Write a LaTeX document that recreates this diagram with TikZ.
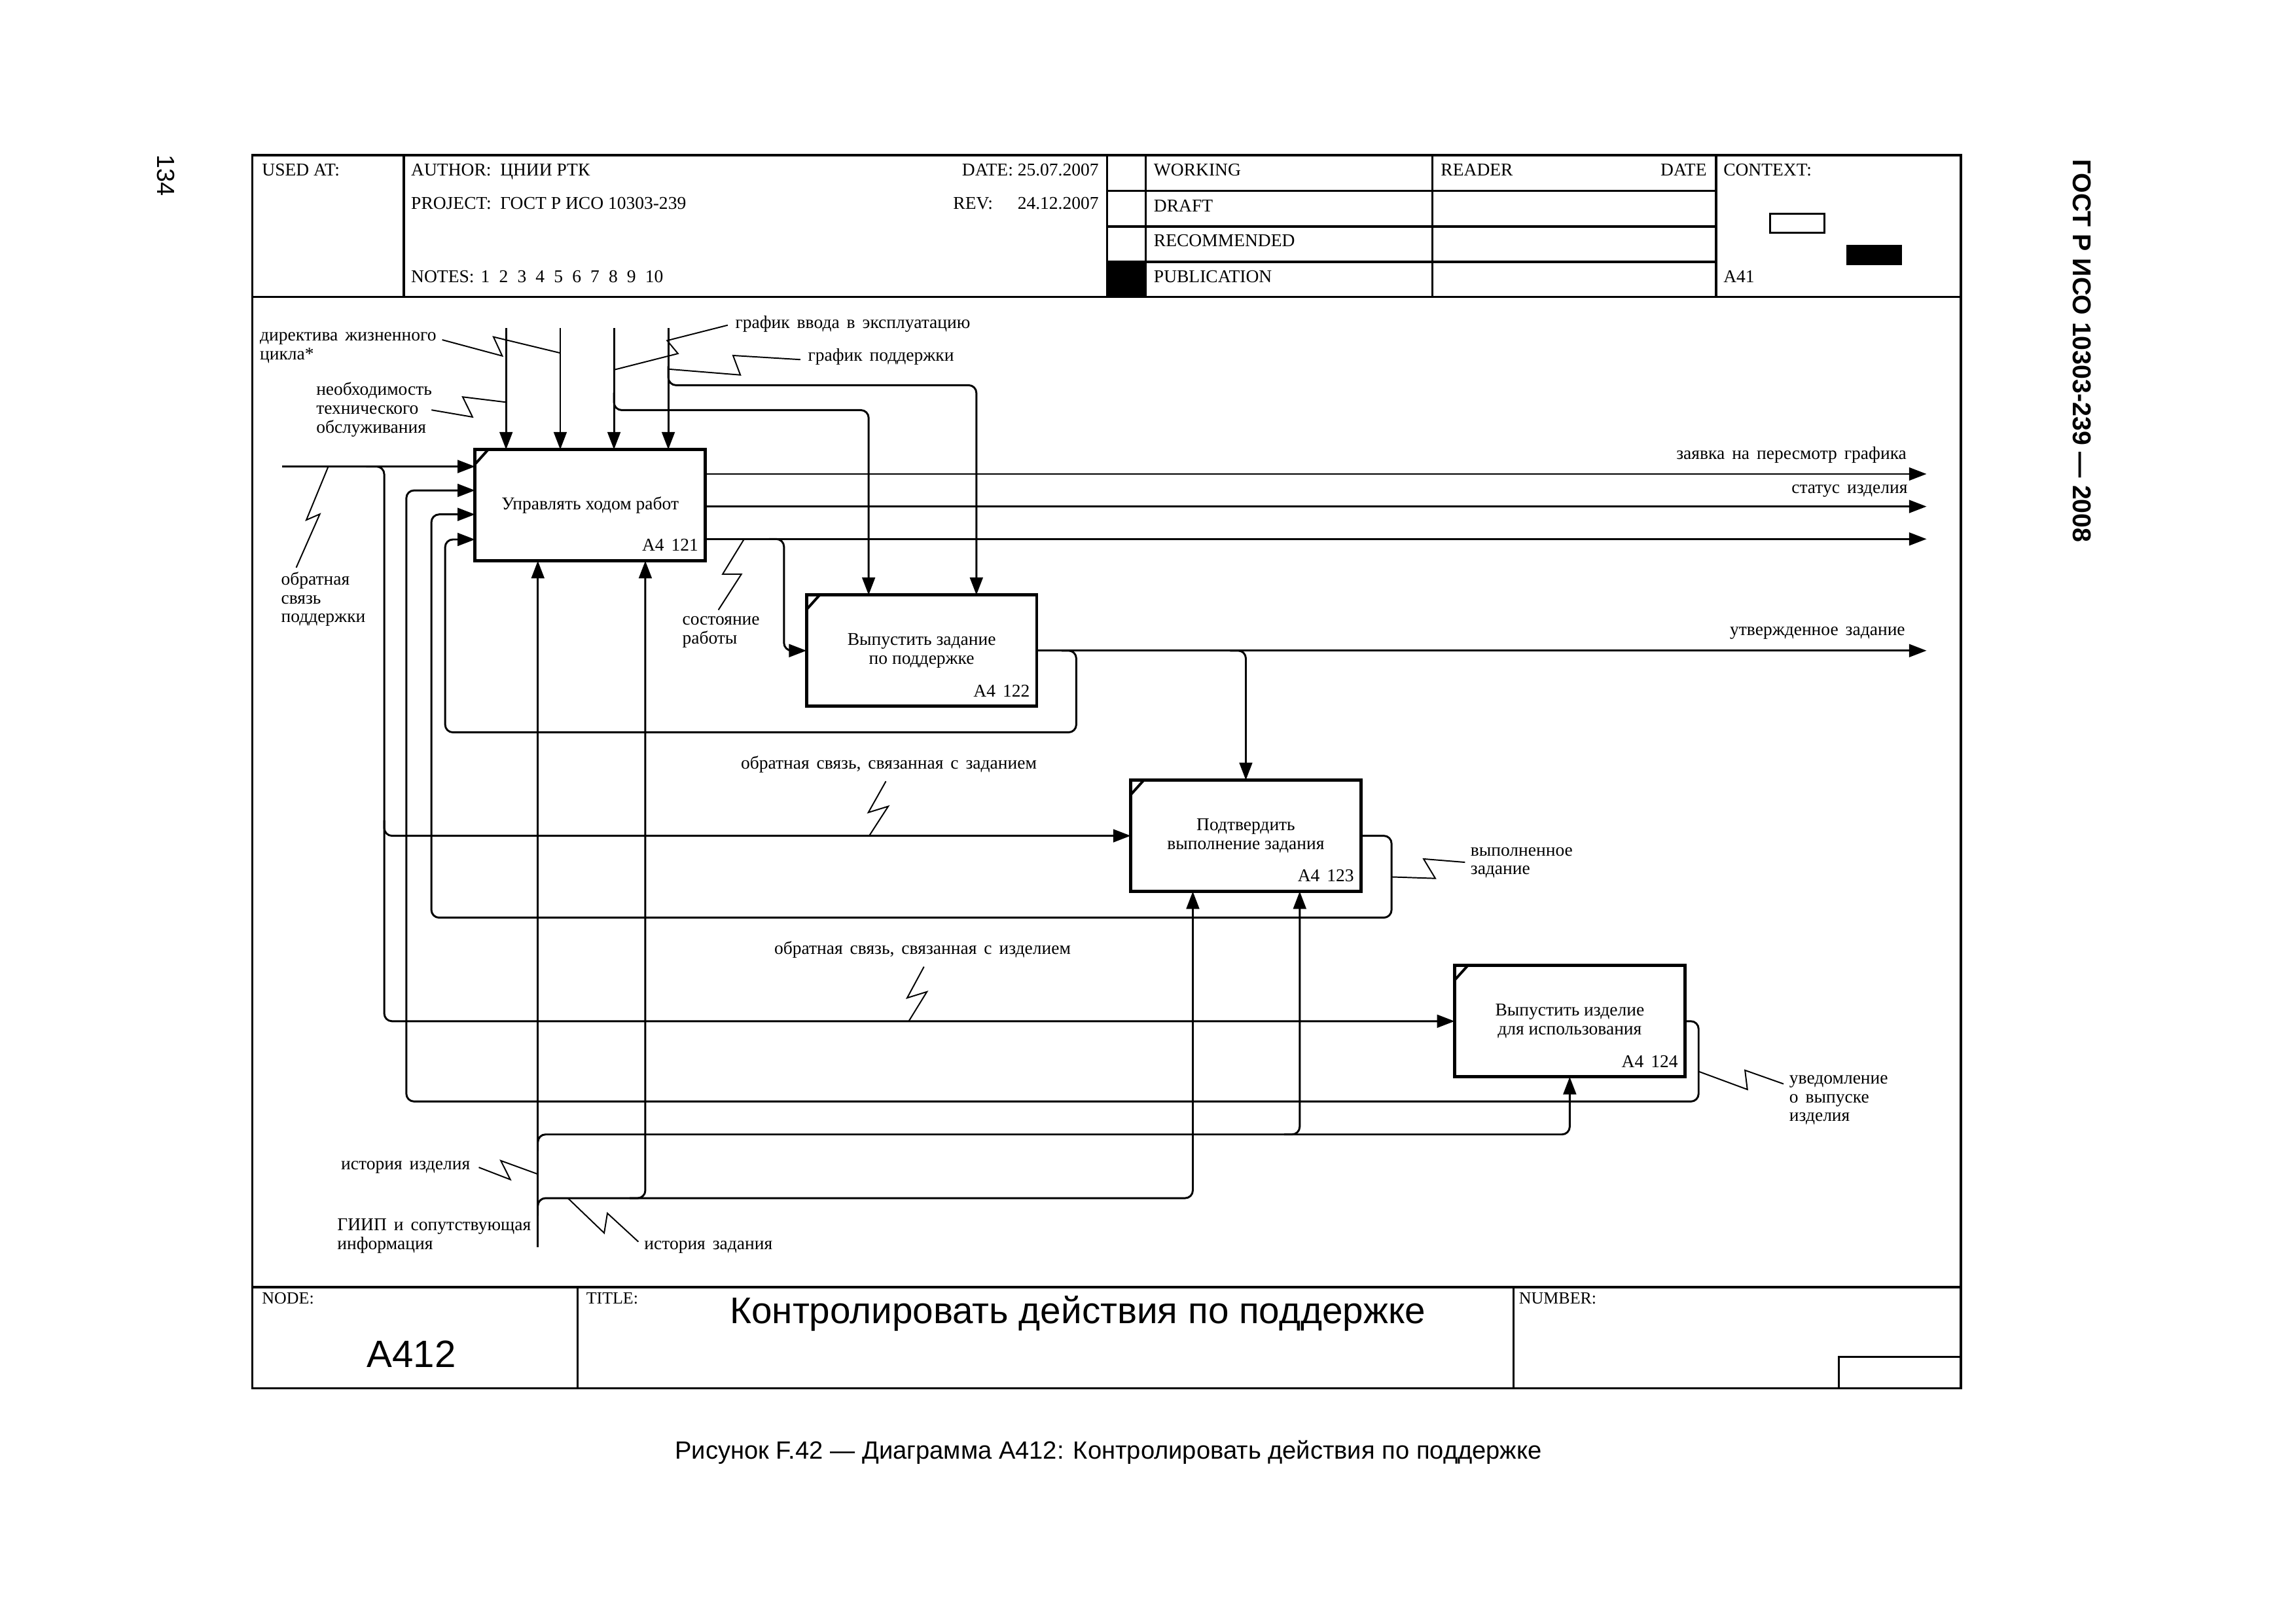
\documentclass[tikz,border=0pt]{standalone}
\usepackage{fontspec}
\setmainfont{Liberation Serif}
\newfontfamily\lblf{Liberation Serif}[WordSpace=1.6]
\newfontfamily\sansf{Liberation Sans}
\usetikzlibrary{arrows.meta,calc}
\begin{document}
\begin{tikzpicture}[x=0.02cm,y=-0.02cm,
  every node/.style={inner sep=0pt,outer sep=0pt},
  lbl/.style={font=\lblf\fontsize{7}{7.3}\selectfont,align=left,anchor=base west},
  hdr/.style={font=\fontsize{7}{8}\selectfont,anchor=base west},
  ftl/.style={font=\fontsize{6.6}{7}\selectfont,anchor=base west},
  fn/.style={draw,line width=1.2pt,minimum width=3.146cm,minimum height=1.52cm,align=center,font=\fontsize{7}{7.3}\selectfont},
  tag/.style={font=\lblf\fontsize{7}{7.3}\selectfont,anchor=base east},
  conn/.style={line width=0.75pt,rounded corners=3pt},
  arr/.style={conn,-{Triangle[length=6.8pt,width=5pt]}},
  lead/.style={line width=0.5pt},
  frm/.style={line width=0.85pt},
]
\useasboundingbox (0,0) rectangle (1568,1108);

% ---------------- frame ----------------
\draw[frm] (172.3,106) rectangle (1339.2,947.9);
\draw[frm] (172.3,202.6) -- (1339.2,202.6);
\draw[frm] (172.3,878.8) -- (1339.2,878.8);
\draw[frm] (275.8,106) -- (275.8,202.6);
\draw[frm] (756.2,106) -- (756.2,202.6);
\draw[frm] (782.3,106) -- (782.3,202.6);
\draw[frm] (978.2,106) -- (978.2,202.6);
\draw[frm] (1172,106) -- (1172,202.6);
\draw[frm] (756.2,130.4) -- (1172,130.4);
\draw[frm] (756.2,154.7) -- (1172,154.7);
\draw[frm] (756.2,178.8) -- (1172,178.8);
\fill (756.2,178.8) rectangle (782.3,202.6);
\draw[line width=0.8pt] (1209,146) rectangle (1246,159);
\fill (1261,167) rectangle (1299,181);
\draw[frm] (394.4,878.8) -- (394.4,947.9);
\draw[frm] (1033.6,878.8) -- (1033.6,947.9);
\draw[frm] (1255.7,926.3) rectangle (1339.2,947.9);

% header texts
\node[hdr] (h1) at (179,120) {USED AT:};
\node[hdr] (h2) at (280.8,120) {AUTHOR:\ \ ЦНИИ РТК};
\node[hdr,anchor=base east] (h3) at (750.3,120) {DATE: 25.07.2007};
\node[hdr] (h4) at (280.8,143) {PROJECT:\ \ ГОСТ Р ИСО 10303-239};
\node[hdr] (h5) at (651,143) {REV:};
\node[hdr,anchor=base east] (h6) at (750.3,143) {24.12.2007};
\node[hdr] (h7) at (280.8,193) {NOTES:\hspace{2.6pt}1\hspace{3.6pt}2\hspace{3.6pt}3\hspace{3.6pt}4\hspace{3.6pt}5\hspace{3.6pt}6\hspace{3.6pt}7\hspace{3.6pt}8\hspace{3.6pt}9\hspace{3.6pt}10};
\node[hdr] (h8) at (788,120) {WORKING};
\node[hdr] (h9) at (788,144.5) {DRAFT};
\node[hdr] (h10) at (788,168.4) {RECOMMENDED};
\node[hdr] (h11) at (788,193) {PUBLICATION};
\node[hdr] (h12) at (984,120) {READER};
\node[hdr,anchor=base east] (h13) at (1165.5,120) {DATE};
\node[hdr] (h14) at (1177,120) {CONTEXT:};
\node[hdr] (h15) at (1177,193) {A41};

% footer texts
\node[ftl] (f1) at (179,890) {NODE:};
\node[ftl] (f2) at (400.4,890) {TITLE:};
\node[ftl] (f3) at (1037.4,890) {NUMBER:};
\node[font=\sansf\fontsize{14.8}{16}\selectfont,anchor=base] (f4) at (281,933.4) {A412};
\node[font=\sansf\fontsize{14.4}{16}\selectfont,anchor=base] (f5) at (736,903.7) {Контролировать действия по поддержке};
\node[font=\sansf\fontsize{9.7}{12}\selectfont,anchor=base] (cap) at (757,996) {Рисунок F.42 — Диаграмма А412: Контролировать действия по поддержке};
\node[font=\sansf\fontsize{9.6}{12}\selectfont,rotate=-90] (pg) at (113.3,119.8) {134};
\node[font=\sansf\bfseries\fontsize{10}{12}\selectfont,rotate=-90] (gost) at (1421.8,239.5) {ГОСТ Р ИСО 10303-239 — 2008};

% ---------------- function boxes ----------------
\node[fn] (b1) at (403.05,344.9) {Управлять ходом работ};
\node[fn] (b2) at (629.4,444.2) {Выпустить задание\\по поддержке};
\node[fn] (b3) at (850.8,570.6) {Подтвердить\\выполнение задания};
\node[fn] (b4) at (1072,697.2) {Выпустить изделие\\для использования};
\foreach \b/\t in {b1/A4 121,b2/A4 122,b3/A4 123,b4/A4 124}{
  \draw[line width=1pt] ($(\b.north west)+(0,10)$) -- ($(\b.north west)+(9,0)$);
  \node[tag] (t\b) at ($(\b.south east)+(-4.8,-6.6)$) {\t};
}

% ---------------- controls ----------------
\coordinate (c1) at (345.6,224);
\coordinate (c2) at (382.6,224);
\coordinate (c3) at (419.3,224);
\coordinate (c4) at (456.4,224);
\foreach \c in {c1,c2,c3,c4}{\draw[arr] (\c) -- (\c |- b1.north);}
\coordinate (k4) at (666.8,263);
\draw[arr] (456.4,250) -- (456.4,263) -- (k4) -- (k4 |- b2.north);
\coordinate (k3) at (593.2,280);
\draw[arr] (419.3,268) -- (419.3,280) -- (k3) -- (k3 |- b2.north);

% ---------------- inputs ----------------
\coordinate (in1) at (192.7,318.5);
\draw[arr] (in1) -- (in1 -| b1.west);
\coordinate (j1) at (262.4,697.2);
\draw[arr] (250,318.5) -- (262.4,318.5) -- (j1) -- (j1 -| b4.west);
\coordinate (j2) at (262.4,570.6);
\draw[arr] (262.4,560) -- (j2) -- (j2 -| b3.west);

% ---------------- outputs of b1 ----------------
\coordinate (o1) at (1315.7,323.6);
\coordinate (o2) at (1315.7,345.8);
\coordinate (o3) at (1315.7,368);
\foreach \o in {o1,o2,o3}{\draw[arr] (\o -| b1.east) -- (\o);}
\coordinate (k5) at (535.4,444.2);
\draw[arr] (525,368) -- (535.4,368) -- (k5) -- (b2.west);

% ---------------- b2 output and feedback ----------------
\coordinate (o4) at (1315.7,444.2);
\draw[arr] (b2.east) -- (o4);
\coordinate (i4) at (304,368.3);
\draw[arr] (725,444.2) -- (735,444.2) -- (735,500) -- (304,500) -- (i4) -- (i4 -| b1.west);
\draw[arr] (840,444.2) -- (850.8,444.2) -- (b3.north);

% ---------------- b3 feedback ----------------
\coordinate (i3) at (294.6,351.2);
\draw[arr] (b3.east) -- (950.3,570.6) -- (950.3,626.5) -- (294.6,626.5) -- (i3) -- (i3 -| b1.west);

% ---------------- b4 feedback ----------------
\coordinate (i2) at (277.5,334.8);
\draw[arr] (b4.east) -- (1160,697.2) -- (1160,752) -- (277.5,752) -- (i2) -- (i2 -| b1.west);

% ---------------- mechanisms ----------------
\coordinate (m0) at (367.3,851.5);
\draw[arr] (m0) -- (m0 |- b1.south);
\draw[arr] (367.3,786) -- (367.3,774.5) -- (1072,774.5) -- (b4.south);
\coordinate (m3b) at (887.6,774.5);
\draw[arr] (877,774.5) -- (m3b) -- (m3b |- b3.south);
\coordinate (m3a) at (814.6,818);
\draw[arr] (367.3,830) -- (367.3,818) -- (m3a) -- (m3a |- b3.south);
\coordinate (m1b) at (440.7,818);
\draw[arr] (430,818) -- (m1b) -- (m1b |- b1.south);

% ---------------- squiggle leaders ----------------
\draw[lead] (302,232) -- (343,243) -- (337,230) -- (382.6,241);
\draw[lead] (294.7,279.9) -- (322.7,284.7) -- (316,271) -- (345.6,274.6);
\draw[lead] (497,222) -- (455.6,232.5) -- (463,241.4) -- (419.3,252.5);
\draw[lead] (546.6,245.5) -- (500.6,242.7) -- (505.6,256) -- (456.4,252);
\draw[lead] (224.2,318.5) -- (209.2,355) -- (218.4,351) -- (202.3,387.5);
\draw[lead] (508.2,368) -- (493.5,392) -- (506.3,392) -- (490.6,416.4);
\draw[lead] (605,533.4) -- (593,554.7) -- (606.6,550.5) -- (593.6,570.6);
\draw[lead] (631,660) -- (619.5,681.3) -- (633,677.1) -- (620.6,697.2);
\draw[lead] (950.3,598.7) -- (980.2,599.7) -- (972.2,586.4) -- (1000.5,588.7);
\draw[lead] (1160,731.5) -- (1193.3,743.8) -- (1191.7,730.7) -- (1218,740);
\draw[lead] (327,797) -- (348.5,805.3) -- (342,792.4) -- (367.3,801.6);
\draw[lead] (387.8,818) -- (412.6,841.8) -- (414.8,828.3) -- (436,847.8);

% ---------------- labels (base = last line) ----------------
\node[lbl] (l1) at (177.5,245.5) {директива жизненного\\цикла*};
\node[lbl] (l2) at (216,295.6) {необходимость\\технического\\обслуживания};
\node[lbl] (l3) at (502.2,224) {график ввода в эксплуатацию};
\node[lbl] (l4) at (551.8,246.4) {график поддержки};
\node[lbl] (l5) at (192,425) {обратная\\связь\\поддержки};
\node[lbl] (l6) at (466,439.6) {состояние\\работы};
\node[lbl] (l7) at (506,524.8) {обратная связь, связанная с заданием};
\node[lbl] (l8) at (528.8,651.4) {обратная связь, связанная с изделием};
\node[lbl] (l9) at (1004.3,597.1) {выполненное\\задание};
\node[lbl] (l10) at (1222,765.6) {уведомление\\о выпуске\\изделия};
\node[lbl,anchor=base east] (l11) at (321,798.6) {история изделия};
\node[lbl] (l12) at (440,853) {история задания};
\node[lbl] (l13) at (230.4,853) {ГИИП и сопутствующая\\информация};
\node[lbl,anchor=base east] (l14) at (1302,313.6) {заявка на пересмотр графика};
\node[lbl,anchor=base east] (l15) at (1302.7,336.7) {статус изделия};
\node[lbl,anchor=base east] (l16) at (1301,433.6) {утвержденное задание};
\end{tikzpicture}
\end{document}
